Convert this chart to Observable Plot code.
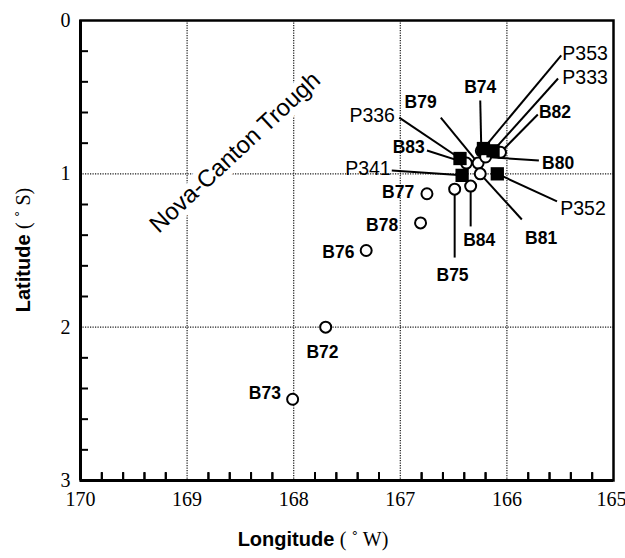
<!DOCTYPE html>
<html><head><meta charset="utf-8">
<script src="https://cdn.jsdelivr.net/npm/d3@7"></script>
<script src="https://cdn.jsdelivr.net/npm/@observablehq/plot@0.6"></script>
<style>body{margin:0;background:#fff} .serif text, text.serif, tspan.serif{font-family:"Liberation Serif","DejaVu Serif","Times New Roman",serif !important}</style>
</head><body><div id="chart"></div>
<script>
// Circle stations (B)
const bNames = ["B72","B73","B74","B75","B76","B77","B78","B79","B80","B81","B82","B83","B84"];
const bLon   = [167.70,168.01,166.24,166.49,167.32,166.75,166.81,166.27,166.20,166.25,166.06,166.38,166.34];
const bLat   = [2.00, 2.47, 0.85, 1.10, 1.50, 1.13, 1.32, 0.93, 0.89, 1.00, 0.86, 0.93, 1.08];
// Square stations (P)
const pNames = ["P353","P333","P336","P341","P352"];
const pLon   = [166.22,166.13,166.44,166.42,166.09];
const pLat   = [0.835,0.85,0.90,1.01,1.00];
// Station labels: text position, anchor, leader start
const labelNames  = ["B73","B72","B76","B78","B77","P341","B83","P336","B79","B74","P353","P333","B82","B80","P352","B81","B84","B75"];
const labelLon    = [168.12,167.73,167.43,167.02,166.87,167.09,166.77,167.05,166.81,166.25,165.48,165.48,165.70,165.67,165.50,165.83,166.26,166.51];
const labelLat    = [2.43,2.165,1.513,1.337,1.122,0.965,0.828,0.62,0.535,0.437,0.215,0.372,0.60,0.933,1.226,1.422,1.435,1.663];
const labelAnchor = ["end","middle","end","end","end","end","end","end","middle","middle","start","start","start","start","start","start","middle","middle"];
const leaderLon   = [null,null,null,null,null,167.08,166.75,167.01,166.62,166.25,165.49,165.52,165.71,165.70,165.53,165.86,166.34,166.49];
const leaderLat   = [null,null,null,null,null,0.978,0.848,0.633,0.633,0.522,0.228,0.378,0.613,0.913,1.18,1.298,1.343,1.546];
// Axis ticks
const xMajor = [170,169,168,167,166,165];
const yMajor = [0,1,2,3];
const xMinor = [169.8,169.6,169.4,169.2,168.8,168.6,168.4,168.2,167.8,167.6,167.4,167.2,166.8,166.6,166.4,166.2,165.8,165.6,165.4,165.2];
const yMinor = [0.2,0.4,0.6,0.8,1.2,1.4,1.6,1.8,2.2,2.4,2.6,2.8];
// Annotation
const troughText = "Nova-Canton Trough";
const troughLon = 168.55, troughLat = 0.86;

const SANS = "Liberation Sans, Arial, sans-serif";
const SERIF = "Liberation Serif, DejaVu Serif, Times New Roman, serif";
const W = 625, H = 558, ML = 80, MR = 12, MT = 20, MB = 78;
const circles = bNames.map((n,i)=>({name:n, lon:bLon[i], lat:bLat[i]}));
const squares = pNames.map((n,i)=>({name:n, lon:pLon[i], lat:pLat[i]}));
const all = new Map([...circles, ...squares].map(d=>[d.name,d]));
const labels = labelNames.map((n,i)=>({name:n, lon:labelLon[i], lat:labelLat[i], anchor:labelAnchor[i],
  llon:leaderLon[i], llat:leaderLat[i], plon:all.get(n).lon, plat:all.get(n).lat, bold:n[0]==="B"}));
const leaders = labels.filter(d=>d.llon!=null);
const minorX = xMinor.map(v=>({x:v}));

const labelMarks = [];
for (const a of ["start","middle","end"]) {
  labelMarks.push(Plot.text(labels.filter(d=>d.bold && d.anchor===a), {x:"lon", y:"lat", text:"name", textAnchor:a, fontWeight:"bold", fontFamily:SANS, fontSize:17.5, fill:"black"}));
  labelMarks.push(Plot.text(labels.filter(d=>!d.bold && d.anchor===a), {x:"lon", y:"lat", text:"name", textAnchor:a, fontFamily:SANS, fontSize:19.5, fill:"black"}));
}
const frameW = W - ML - MR, frameH = H - MT - MB;

const chart = Plot.plot({
  width:W, height:H, marginLeft:ML, marginRight:MR, marginTop:MT, marginBottom:MB,
  x:{domain:[170,165], axis:null},
  y:{domain:[0,3], reverse:true, axis:null},
  style:{background:"white", color:"black", overflow:"visible"},
  marks:[
    Plot.gridX([169,168,167,166], {stroke:"black", strokeOpacity:0.9, strokeWidth:1.2, strokeDasharray:"1.2,1.3"}),
    Plot.gridY([1,2], {stroke:"black", strokeOpacity:0.9, strokeWidth:1.2, strokeDasharray:"1.2,1.3"}),
    Plot.text([troughText], {x:()=>troughLon, y:()=>troughLat, text:d=>d, rotate:-43,
      fontFamily:SANS, fontSize:24, fill:"black", stroke:"white", strokeWidth:12}),
    Plot.frame({stroke:"black", strokeWidth:2.5}),
    Plot.ruleX([170], {strokeWidth:3, stroke:"black"}),
    Plot.ruleY([3], {strokeWidth:3, stroke:"black"}),
    Plot.link(minorX, {x1:"x", x2:"x", y1:()=>3, y2:()=>2.948, stroke:"black", strokeWidth:2}),
    Plot.ruleX(xMinor, {x:d=>d, y1:()=>2.948, y2:()=>3, stroke:"black", strokeWidth:2}),
    Plot.tickY(yMinor, {y:d=>d, insetRight:frameW-8, stroke:"black", strokeWidth:2}),
    Plot.text(xMajor.slice(0,-1), {x:d=>d, frameAnchor:"bottom", dy:25, text:d=>String(d), fontFamily:SERIF, fontSize:20, fill:"black", className:"serif"}),
    Plot.text(xMajor.slice(-1), {x:d=>d, frameAnchor:"bottom", dy:25, dx:-2, text:d=>String(d), fontFamily:SERIF, fontSize:20, fill:"black", className:"serif"}),
    Plot.text(yMajor, {y:d=>d, frameAnchor:"left", dx:-10, textAnchor:"end", text:d=>String(d), fontFamily:SERIF, fontSize:20, fill:"black", className:"serif"}),
    Plot.link(leaders, {x1:"llon", y1:"llat", x2:"plon", y2:"plat", stroke:"black", strokeWidth:2}),
    Plot.dot(circles, {x:"lon", y:"lat", r:5.5, fill:"white", stroke:"black", strokeWidth:2}),
    Plot.dot(squares, {x:"lon", y:"lat", symbol:"square", r:7.5, fill:"black", stroke:"black", strokeWidth:0}),
    ...labelMarks
  ]
});
document.getElementById("chart").appendChild(chart);

const svg = d3.select(chart);
svg.selectAll(".serif text").style("font-family", SERIF);
const xt = svg.append("text").attr("x", 313).attr("y", 546).attr("text-anchor","middle").attr("fill","black");
xt.append("tspan").style("font-family",SANS).style("font-weight","bold").style("font-size","20px").text("Longitude ");
xt.append("tspan").attr("class","serif").style("font-family",SERIF).style("font-size","20px").text("( ˚ W)");
const yt = svg.append("text").attr("transform","translate(30,250) rotate(-90)").attr("text-anchor","middle").attr("fill","black");
yt.append("tspan").style("font-family",SANS).style("font-weight","bold").style("font-size","20px").text("Latitude ");
yt.append("tspan").attr("class","serif").style("font-family",SERIF).style("font-size","20px").text("( ˚ S)");
</script>
</body></html>
